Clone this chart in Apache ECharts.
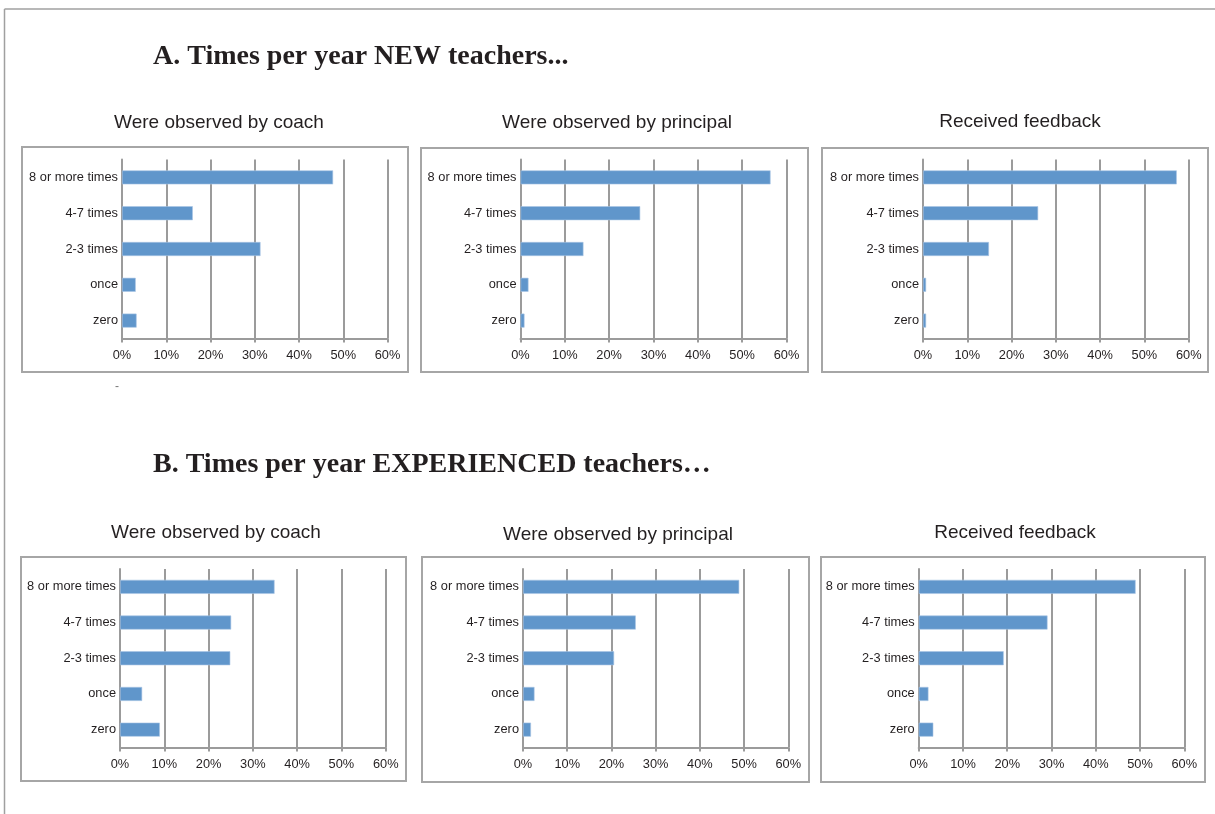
<!DOCTYPE html>
<html>
<head>
<meta charset="utf-8">
<script src="https://cdn.jsdelivr.net/npm/echarts@6/dist/echarts.min.js"></script>
<style>
html,body{margin:0;padding:0;background:#fff;}
#chart{width:1215px;height:814px;}
</style>
</head>
<body>
<div id="chart"></div>
<script>
// ---- Data ----
var categories = ['8 or more times', '4-7 times', '2-3 times', 'once', 'zero'];
var newCoach = [47.7, 16.0, 31.3, 3.1, 3.3];
var newPrincipal = [56.4, 27.0, 14.2, 1.8, 0.9];
var newFeedback = [57.3, 26.0, 14.9, 0.7, 0.7];
var expCoach = [34.9, 25.1, 24.9, 5.0, 9.0];
var expPrincipal = [48.9, 25.5, 20.6, 2.6, 1.8];
var expFeedback = [49.0, 29.1, 19.2, 2.2, 3.3];
var panelTitles = ['Were observed by coach', 'Were observed by principal', 'Received feedback',
                   'Were observed by coach', 'Were observed by principal', 'Received feedback'];
var sectionTitles = ['A. Times per year NEW teachers...', 'B. Times per year EXPERIENCED teachers\u2026'];
var xMin = 0, xMax = 60, xStep = 10;

// ---- Layout ----
var panelData = [newCoach, newPrincipal, newFeedback, expCoach, expPrincipal, expFeedback];
var grids = [
  {left: 122, top: 159.5, width: 265.5, height: 179},
  {left: 520.5, top: 159.5, width: 266, height: 179},
  {left: 923, top: 159.5, width: 265.7, height: 179},
  {left: 120, top: 569, width: 265.7, height: 178.5},
  {left: 523, top: 569, width: 265.3, height: 178.5},
  {left: 918.7, top: 569, width: 265.6, height: 178.5}
];
var boxes = [
  [22, 147, 386, 225], [421, 148, 387, 224], [822, 148, 386, 224],
  [21, 557, 385, 224], [422, 557, 387, 225], [821, 557, 384, 225]
];
var subTitlePos = [[219, 123], [617, 123], [1020, 122], [216, 533], [618, 535], [1015, 533]];

var gray = '#9b9b9b';
var option = {
  backgroundColor: '#fff',
  animation: false,
  title: [],
  grid: [],
  xAxis: [],
  yAxis: [],
  series: [],
  graphic: []
};

// outer frame
option.graphic.push({type: 'line', shape: {x1: 4.5, y1: 9, x2: 1215, y2: 9}, style: {stroke: '#a0a0a0', lineWidth: 1.5}, silent: true});
option.graphic.push({type: 'line', shape: {x1: 4.5, y1: 9, x2: 4.5, y2: 814}, style: {stroke: '#a0a0a0', lineWidth: 1.5}, silent: true});
option.graphic.push({type: 'text', x: 117, y: 387, style: {text: '-', fill: '#777', font: '12px "Liberation Sans"', textAlign: 'center', textVerticalAlign: 'middle'}, silent: true});

// section titles
option.graphic.push({type: 'text', x: 153, y: 57, style: {text: sectionTitles[0], fill: '#231f20', font: 'bold 28px "Liberation Serif"', textAlign: 'left', textVerticalAlign: 'middle'}});
option.graphic.push({type: 'text', x: 153, y: 465, style: {text: sectionTitles[1], fill: '#231f20', font: 'bold 28px "Liberation Serif"', textAlign: 'left', textVerticalAlign: 'middle'}});

for (var i = 0; i < 6; i++) {
  var b = boxes[i];
  option.graphic.push({type: 'rect', shape: {x: b[0], y: b[1], width: b[2], height: b[3]}, style: {fill: 'none', stroke: '#a6a6a6', lineWidth: 2}, silent: true, z: -1});
  option.title.push({
    text: panelTitles[i], left: subTitlePos[i][0], top: subTitlePos[i][1] - 10, textAlign: 'center', padding: 0,
    textStyle: {fontFamily: 'Liberation Sans', fontSize: 19, fontWeight: 'normal', color: '#231f20', lineHeight: 20}
  });
  option.grid.push({left: grids[i].left, top: grids[i].top, width: grids[i].width, height: grids[i].height, containLabel: false});
  option.xAxis.push({
    type: 'value', gridIndex: i, min: xMin, max: xMax, interval: xStep,
    axisLine: {show: true, lineStyle: {color: gray, width: 2}},
    axisTick: {show: true, length: 4, lineStyle: {color: gray, width: 2}},
    splitLine: {show: true, lineStyle: {color: gray, width: 2}},
    axisLabel: {formatter: '{value}%', color: '#231f20', fontFamily: 'Liberation Sans', fontSize: 12.8, margin: 10}
  });
  option.yAxis.push({
    type: 'category', gridIndex: i, data: categories, inverse: true,
    axisLine: {show: true, lineStyle: {color: gray, width: 2}},
    axisTick: {show: false},
    splitLine: {show: false},
    axisLabel: {color: '#231f20', fontFamily: 'Liberation Sans', fontSize: 12.8, margin: 4}
  });
  option.series.push({
    type: 'bar', xAxisIndex: i, yAxisIndex: i, data: panelData[i], barWidth: 14,
    itemStyle: {color: '#6096cb', borderColor: '#a8c4e4', borderWidth: 0.6},
    z: 3
  });
}

var chart = echarts.init(document.getElementById('chart'), null, {renderer: 'canvas'});
chart.setOption(option);
</script>
</body>
</html>
